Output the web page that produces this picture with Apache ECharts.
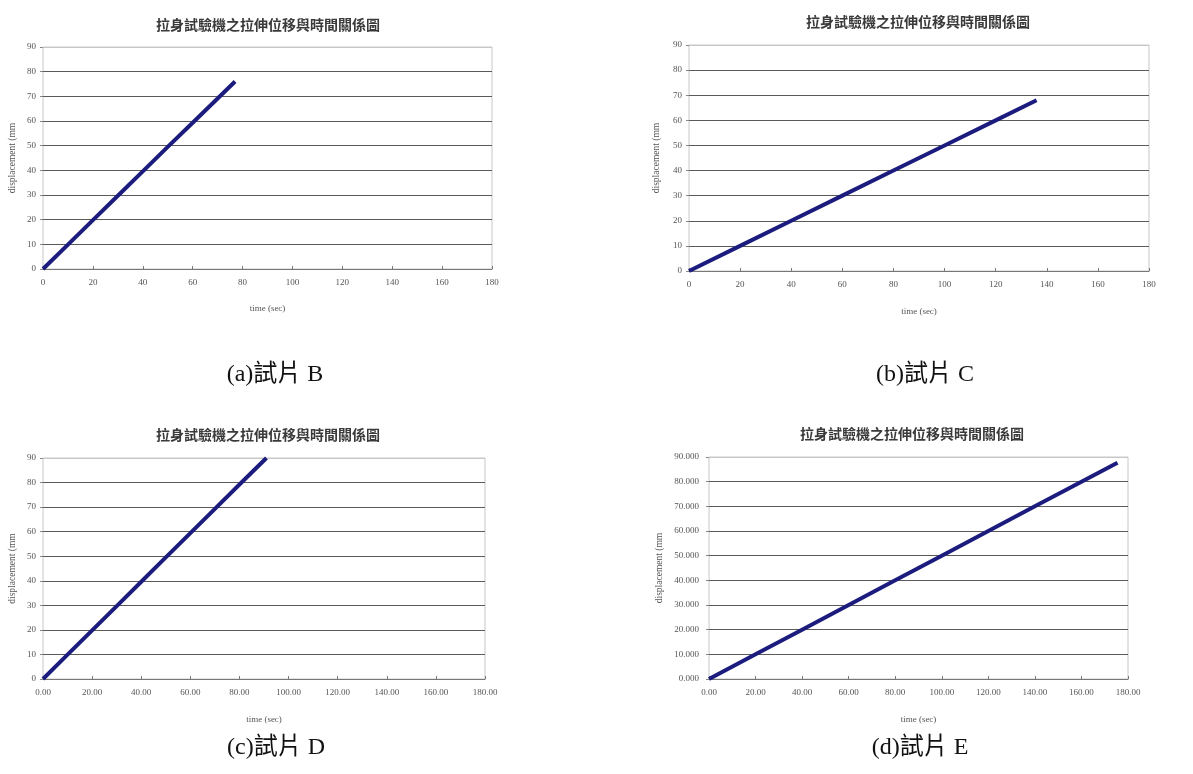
<!DOCTYPE html>
<html><head><meta charset="utf-8">
<script src="https://cdn.jsdelivr.net/npm/echarts@6/dist/echarts.min.js"></script>
<style>html,body{margin:0;padding:0;background:#fff}#c{width:1193px;height:774px}</style>
</head><body><div id="c"></div>
<script>
// ---- data ----
const chartTitle = '拉身試驗機之拉伸位移與時間關係圖';
const captions = ['(a)試片 B', '(b)試片 C', '(c)試片 D', '(d)試片 E'];
const xName = 'time (sec)';
const yName = 'displacement (mm';
const seriesB = [[0,0],[10,9.9],[20,19.8],[30,29.7],[40,39.6],[50,49.5],[60,59.3],[70,69.1],[77,76]];
const seriesC = [[0,0],[20,10],[40,20],[60,30],[80,40],[100,50],[120,60],[136,68]];
const seriesD = [[0,0],[10,9.9],[20,19.8],[30,29.7],[40,39.6],[50,49.5],[60,59.4],[70,69.3],[80,79.2],[91,90]];
const seriesE = [[0,0],[20,10],[40,20],[60,30],[80,40],[100,50],[120,60],[140,70],[160,80],[175.5,87.7]];
const xTicks = [0,20,40,60,80,100,120,140,160,180];
const yTicks = [0,10,20,30,40,50,60,70,80,90];
const xDecimals = [0, 0, 2, 2];
const yDecimals = [0, 0, 0, 3];

const grids = [
  {left:43, top:47, width:449, height:222},
  {left:689, top:45, width:460, height:226},
  {left:43, top:458, width:442, height:221},
  {left:709, top:457, width:419, height:222}
];
const titlePos = [[263,21],[913,18],[263,431],[907,430]];
const captionPos = [[270,372],[920,372],[271,745],[915,745]];
const yNameGap = [26, 28, 26, 45];
const yLabelMargin = [7, 7, 7, 10];
const xNameGap = [35, 36, 36, 36];
const allSeries = [seriesB, seriesC, seriesD, seriesE];

const labelFont = {fontFamily:'Liberation Serif', fontSize:9, color:'#555'};
const splitColors = yTicks.map((v,i)=> i===yTicks.length-1 ? '#c8c8c8' : '#5a5a5a');

const option = {
  backgroundColor:'#fff',
  animation:false,
  title: titlePos.map(p=>({
    text: chartTitle, left:p[0], top:p[1]-8, textAlign:'center',
    textStyle:{fontFamily:'Noto Sans CJK TC', fontSize:14, fontWeight:'bold', color:'#3a3a3a'}
  })).concat(captionPos.map((p,i)=>({
    text: captions[i], left:p[0], top:p[1]-14, textAlign:'center',
    textStyle:{fontFamily:'Liberation Serif, Noto Sans CJK TC', fontSize:24, fontWeight:'normal', color:'#111'}
  }))),
  grid: grids.map(g=>Object.assign({show:true, borderColor:'#c8c8c8', borderWidth:1, backgroundColor:'#fff'}, g)),
  xAxis: grids.map((g,i)=>({
    type:'value', gridIndex:i, min:xTicks[0], max:xTicks[xTicks.length-1], interval:20,
    name:xName, nameLocation:'middle', nameGap:xNameGap[i],
    nameTextStyle:{fontFamily:'Liberation Serif', fontSize:9, color:'#555'},
    axisLine:{show:true, lineStyle:{color:'#777', width:1}},
    axisTick:{show:true, inside:true, length:3, lineStyle:{color:'#777'}},
    axisLabel:Object.assign({margin:9, formatter:v=>v.toFixed(xDecimals[i])}, labelFont),
    splitLine:{show:false}
  })),
  yAxis: grids.map((g,i)=>({
    type:'value', gridIndex:i, min:yTicks[0], max:yTicks[yTicks.length-1], interval:10,
    name:yName, nameLocation:'middle', nameGap:yNameGap[i], nameRotate:90,
    nameTextStyle:{fontFamily:'Liberation Serif', fontSize:9.5, color:'#555'},
    axisLine:{show:false},
    axisTick:{show:true, inside:false, length:3, lineStyle:{color:'#888'}},
    axisLabel:Object.assign({margin:yLabelMargin[i], formatter:v=>v.toFixed(yDecimals[i])}, labelFont),
    splitLine:{show:true, lineStyle:{color:splitColors, width:1.2}}
  })),
  series: allSeries.map((d,i)=>({
    type:'line', xAxisIndex:i, yAxisIndex:i, data:d, showSymbol:false, symbol:'none',
    lineStyle:{color:'#1c1c7e', width:4}, z:5
  }))
};
echarts.init(document.getElementById('c')).setOption(option);
</script></body></html>
